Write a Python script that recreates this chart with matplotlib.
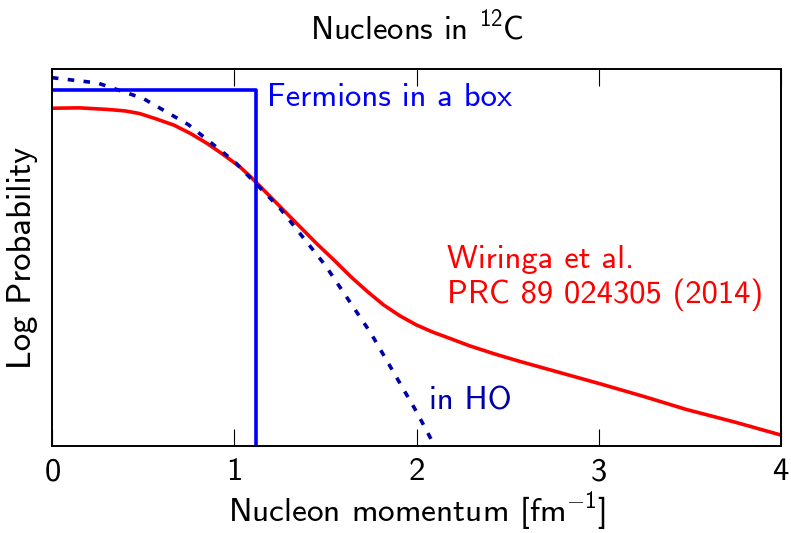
import numpy as np
import matplotlib.pyplot as plt

plt.rcParams['font.family'] = ['cmss10', 'DejaVu Sans']
plt.rcParams['mathtext.fontset'] = 'custom'
plt.rcParams['mathtext.rm'] = 'cmss10'
plt.rcParams['axes.formatter.use_mathtext'] = True

# momentum distribution of nucleons (log scale, arbitrary units)
k_wiringa = [0.0, 0.15, 0.30, 0.40, 0.48, 0.57, 0.67, 0.76, 0.85, 0.94, 1.03,
             1.09, 1.18, 1.27, 1.36, 1.45, 1.55, 1.64, 1.73, 1.82, 1.91, 2.0,
             2.09, 2.18, 2.29, 2.43, 2.57, 2.8, 3.0, 3.25, 3.48, 3.75, 4.0]
logp_wiringa = [8.96, 8.97, 8.93, 8.89, 8.82, 8.68, 8.51, 8.29, 8.03, 7.73, 7.41,
                7.14, 6.70, 6.26, 5.82, 5.38, 4.92, 4.49, 4.10, 3.74, 3.45, 3.21,
                3.02, 2.86, 2.66, 2.44, 2.24, 1.93, 1.66, 1.31, 0.97, 0.63, 0.29]

# harmonic oscillator
k_ho = [0.0, 0.25, 0.5, 0.75, 1.0, 1.25, 1.5, 1.75, 2.0, 2.1]
logp_ho = [9.77, 9.63, 9.22, 8.52, 7.55, 6.31, 4.79, 2.99, 0.91, 0.0]

# fermi gas in a box
k_fermi = 1.12
logp_box = 9.45

fig = plt.figure(figsize=(7.91, 5.33), dpi=100)
ax = fig.add_axes([0.0657, 0.1632, 0.9217, 0.7073])

ax.plot(k_wiringa, logp_wiringa, color='#ff0000', lw=2.6, solid_joinstyle='round')
ax.plot(k_ho, logp_ho, color='#0000aa', lw=2.6, dashes=(1.8, 2.6))
ax.plot([0, k_fermi, k_fermi], [logp_box, logp_box, -1], color='#0000ff', lw=2.6)

ax.text(1.18, logp_box - 0.2, 'Fermions in a box', color='#0000ff', fontsize=23.5, va='center')
ax.text(2.07, 1.2, 'in HO', color='#0000aa', fontsize=23.5, va='center')
ax.text(2.17, 4.45, 'Wiringa et al.\nPRC 89 024305 (2014)', color='#ff0000',
        fontsize=23.5, va='center', linespacing=1.2)

ax.set_xlim(0, 4)
ax.set_ylim(0, 10)
ax.set_xticks([0, 1, 2, 3, 4])
ax.set_yticks([])
ax.tick_params(axis='x', direction='in', top=True, length=12, width=0.8,
               labelsize=23.5, pad=8)
for s in ax.spines.values():
    s.set_linewidth(1.4)

ax.set_title('Nucleons in $^{12}$C', fontsize=23.5, pad=22)
ax.set_xlabel('Nucleon momentum [fm$^{-1}$]', fontsize=24, labelpad=2)
ax.set_ylabel('Log Probability', fontsize=25, labelpad=10)

fig.savefig('out.png', dpi=100)
